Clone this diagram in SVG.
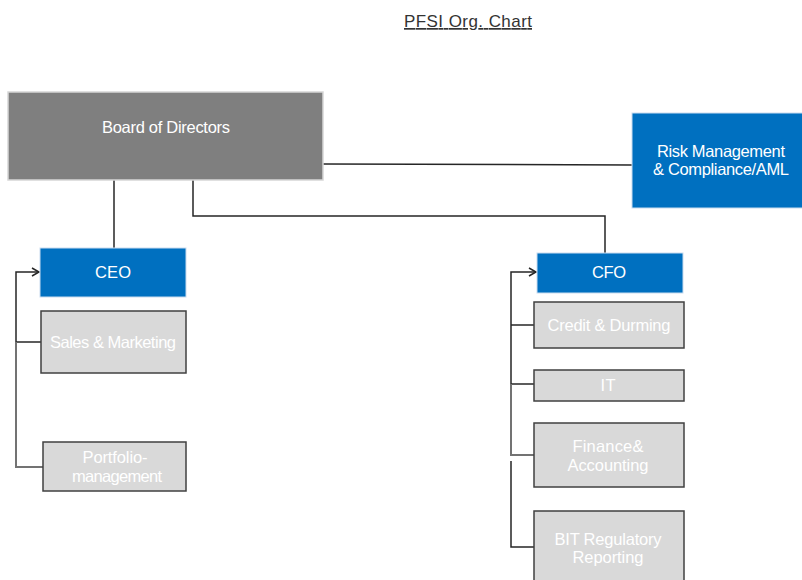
<svg xmlns="http://www.w3.org/2000/svg" width="802" height="580" viewBox="0 0 802 580">
<defs>
<marker id="arr" markerWidth="10" markerHeight="10" refX="8" refY="5" orient="auto" markerUnits="userSpaceOnUse">
<path d="M1,1 L8,5 L1,9" fill="none" stroke="#262626" stroke-width="1.5"/>
</marker>
</defs>
<style>
text{font-family:"Liberation Sans",Arial,sans-serif;font-size:16.5px;fill:#ffffff;text-anchor:middle}
.title{fill:#333333;font-size:17px;text-decoration:underline}
.board{fill:#7f7f7f;stroke:#d6d6d6;stroke-width:1.5}
.blue{fill:#0070c0;stroke:#c9dcef;stroke-width:1}
.grey{fill:#d9d9d9;stroke:#404040;stroke-width:1.5}
.ln{fill:none;stroke:#262626;stroke-width:1.5}
.lg{fill:none;stroke:#737373;stroke-width:2}
</style>
<rect width="802" height="580" fill="#ffffff"/>
<text class="title" x="468" y="27" textLength="128">PFSI Org. Chart</text>
<g id="connectors">
<path class="ln" d="M323,164 L632,165"/>
<path class="ln" d="M114,180 V248"/>
<path class="ln" d="M193,180 V216 H605 V253"/>
<path class="ln" d="M16,342 V272 H39" marker-end="url(#arr)"/>
<path class="ln" d="M16,342 H41"/>
<path class="lg" d="M16,342 V467 H43"/>
<path class="ln" d="M511,384 V272 H536" marker-end="url(#arr)"/>
<path class="ln" d="M511,325 H534"/>
<path class="ln" d="M511,384 H534"/>
<path class="lg" d="M511,384 V455 H534"/>
<path class="ln" d="M511,461 V547 H534"/>
</g>
<g id="board">
<rect class="board" x="8" y="92" width="315" height="88"/>
<text x="166" y="133" textLength="128">Board of Directors</text>
</g>
<g id="risk">
<rect class="blue" x="632" y="113" width="180" height="95"/>
<text x="721" y="157" textLength="128">Risk Management</text>
<text x="721" y="175" textLength="136">&amp; Compliance/AML</text>
</g>
<g id="ceo">
<rect class="blue" x="40" y="248" width="146" height="49"/>
<text x="113" y="278" textLength="36">CEO</text>
</g>
<g id="sales">
<rect class="grey" x="41" y="311" width="145" height="62"/>
<text x="113" y="348" textLength="126">Sales &amp; Marketing</text>
</g>
<g id="portfolio">
<rect class="grey" x="43" y="442" width="143" height="49"/>
<text x="115" y="463" textLength="65">Portfolio-</text>
<text x="117" y="482" textLength="90">management</text>
</g>
<g id="cfo">
<rect class="blue" x="537" y="253" width="146" height="40"/>
<text x="609" y="278" textLength="34">CFO</text>
</g>
<g id="credit">
<rect class="grey" x="534" y="302" width="150" height="46"/>
<text x="609" y="331" textLength="123">Credit &amp; Durming</text>
</g>
<g id="it">
<rect class="grey" x="534" y="370" width="150" height="31"/>
<text x="608" y="391" textLength="15">IT</text>
</g>
<g id="finance">
<rect class="grey" x="534" y="423" width="150" height="64"/>
<text x="608" y="452" textLength="71">Finance&amp;</text>
<text x="608" y="471" textLength="81">Accounting</text>
</g>
<g id="bit">
<rect class="grey" x="534" y="511" width="150" height="80"/>
<text x="608" y="545" textLength="107">BIT Regulatory</text>
<text x="608" y="563" textLength="71">Reporting</text>
</g>
</svg>
